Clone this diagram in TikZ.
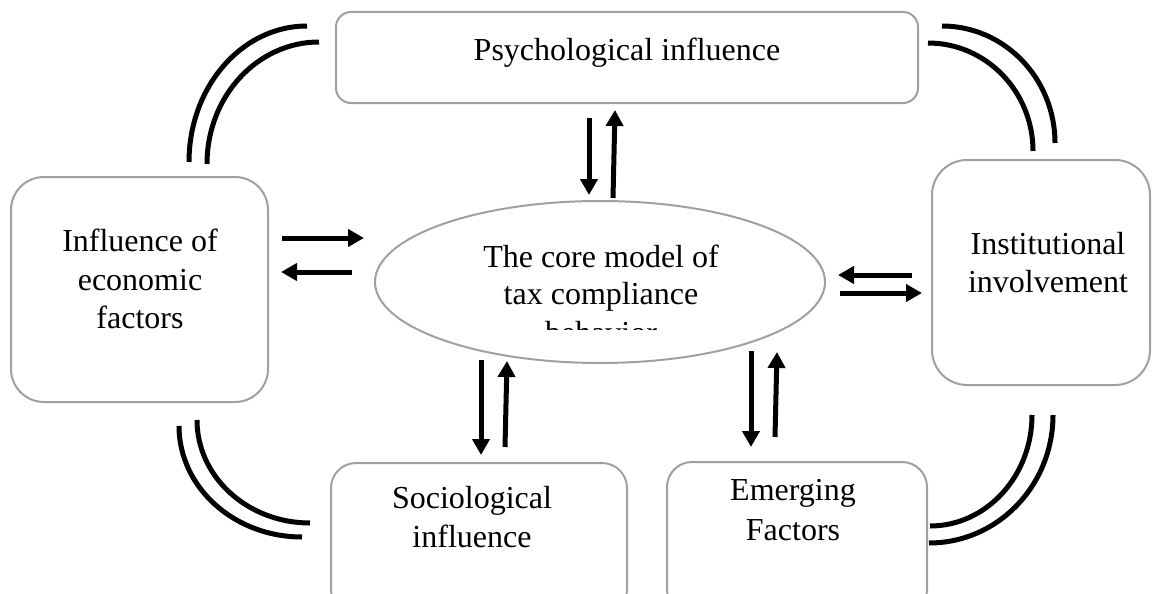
\documentclass[tikz,border=0pt]{standalone}
\usepackage{fontspec}
\setmainfont{Liberation Serif}
\usetikzlibrary{arrows.meta,shapes.geometric}
\definecolor{boxgray}{RGB}{160,160,160}
\tikzset{
  box/.style={draw=boxgray, line width=2pt, fill=white, inner sep=0pt, minimum width=#1},
  txt/.style={anchor=base, inner sep=0pt, font=\fontsize{32}{38}\selectfont},
  link/.style={line width=5pt, black},
  flow/.style={line width=5pt, black, -{Triangle[length=16pt,width=17pt]}}
}
\begin{document}
\begin{tikzpicture}[x=1pt,y=-1pt]
\useasboundingbox (0,0) rectangle (1159,594);
\begin{scope}
\clip (0,0) rectangle (1159,594);
% boxes
\node[box=582pt, minimum height=91pt, rounded corners=15pt] (psych) at (627,57.5) {};
\node[box=257pt, minimum height=225pt, rounded corners=33pt] (econ) at (139.5,289.5) {};
\node[box=218pt, minimum height=225pt, rounded corners=35pt] (inst) at (1041,272.5) {};
\node[box=296pt, minimum height=152pt, rounded corners=25pt] (soc) at (479,539) {};
\node[box=260pt, minimum height=153pt, rounded corners=25pt] (emer) at (797,538.5) {};
\node[ellipse, draw=boxgray, line width=2pt, inner sep=0pt, minimum width=450pt, minimum height=162pt] (core) at (600,282) {};
\end{scope}
% double arcs
\draw[link] (189,162) .. controls (189,86.9) and (241.8,26) .. (307,26);
\draw[link] (207,164) .. controls (207,96.6) and (257.1,42) .. (319,42);
\draw[link] (942,26) .. controls (1004.4,26) and (1055,78.4) .. (1055,143);
\draw[link] (928,43) .. controls (986,43) and (1033,91.4) .. (1033,151);
\draw[link] (197,420) .. controls (197,476.9) and (247.6,523) .. (310,523);
\draw[link] (179,426) .. controls (179,487.3) and (234.1,537) .. (302,537);
\draw[link] (1032,415) .. controls (1032,476.3) and (986.3,526) .. (930,526);
\draw[link] (1053,415) .. controls (1053,485.7) and (997.5,543) .. (929,543);
% arrow end points
\coordinate (pd1) at (589,118); \coordinate (pd2) at (589,195);
\coordinate (pu1) at (613,198); \coordinate (pu2) at (615,110);
\coordinate (er1) at (282,238); \coordinate (er2) at (364,238);
\coordinate (el1) at (352,272); \coordinate (el2) at (281,272);
\coordinate (il1) at (912,275); \coordinate (il2) at (838,275);
\coordinate (ir1) at (840,293); \coordinate (ir2) at (922,293);
\coordinate (sd1) at (481,360); \coordinate (sd2) at (481,455);
\coordinate (su1) at (505,447); \coordinate (su2) at (507,361);
\coordinate (md1) at (751,351); \coordinate (md2) at (751,447);
\coordinate (mu1) at (775,437); \coordinate (mu2) at (777,352);
\draw[flow] (pd1) -- (pd2);
\draw[flow] (pu1) -- (pu2);
\draw[flow] (er1) -- (er2);
\draw[flow] (el1) -- (el2);
\draw[flow] (il1) -- (il2);
\draw[flow] (ir1) -- (ir2);
\draw[flow] (sd1) -- (sd2);
\draw[flow] (su1) -- (su2);
\draw[flow] (md1) -- (md2);
\draw[flow] (mu1) -- (mu2);
% texts
\node[txt] (tpsych) at (627,61) {Psychological influence};
\node[txt] (tecon1) at (140,251) {Influence of};
\node[txt] (tecon2) at (140,290) {economic};
\node[txt] (tecon3) at (140,328) {factors};
\node[txt] (tinst1) at (1048,254) {Institutional};
\node[txt] (tinst2) at (1048,292) {involvement};
\node[txt] (tsoc1) at (472,508) {Sociological};
\node[txt] (tsoc2) at (472,547) {influence};
\node[txt] (temer1) at (793,500) {Emerging};
\node[txt] (temer2) at (793,540) {Factors};
\node[txt] (tcore1) at (601,267) {The core model of};
\node[txt] (tcore2) at (601,304) {tax compliance};
\begin{scope}
\clip (0,0) rectangle (1159,329.5);
\node[txt] (tcore3) at (601,343.5) {behavior};
\end{scope}
\end{tikzpicture}
\end{document}
